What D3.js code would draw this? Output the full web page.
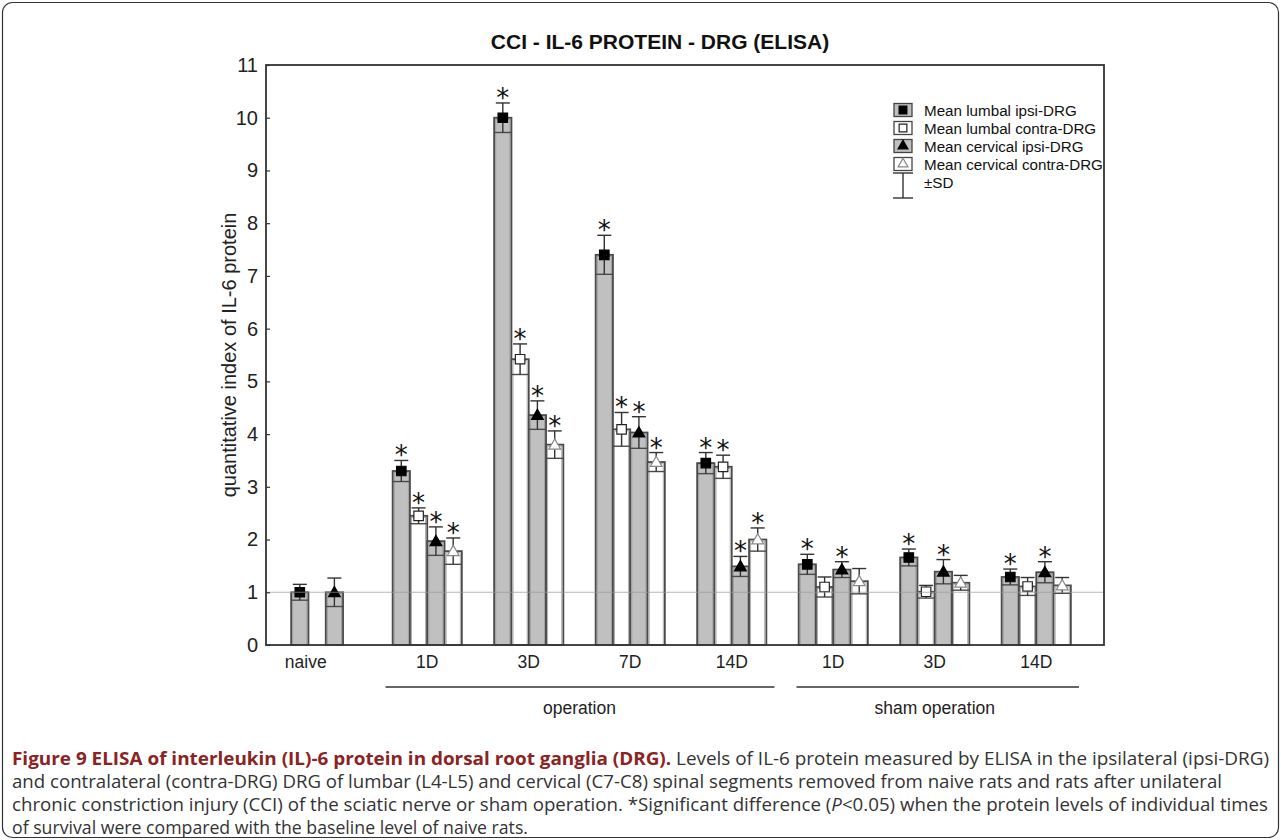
<!DOCTYPE html>
<html>
<head>
<meta charset="utf-8">
<script src="https://cdn.jsdelivr.net/npm/d3@7"></script>
<style>
  body { margin: 0; background: #fff; }
  svg { display: block; }
</style>
</head>
<body>
<div id="chart"></div>
<script>
// groups along the x axis
const groups = ["naive", "op1D", "op3D", "op7D", "op14D", "sham1D", "sham3D", "sham14D"];
const groupLabels = ["naive", "1D", "3D", "7D", "14D", "1D", "3D", "14D"];

// means and SD (null = not measured)
const lumbalIpsi = [1.0, 3.3, 10.0, 7.4, 3.45, 1.53, 1.66, 1.29];
const lumbalIpsiSD = [0.15, 0.2, 0.28, 0.37, 0.2, 0.19, 0.16, 0.15];
const lumbalContra = [null, 2.45, 5.42, 4.09, 3.38, 1.1, 1.01, 1.11];
const lumbalContraSD = [null, 0.15, 0.29, 0.32, 0.22, 0.19, 0.12, 0.17];
const cervIpsi = [1.0, 1.97, 4.36, 4.03, 1.49, 1.43, 1.39, 1.38];
const cervIpsiSD = [0.27, 0.27, 0.27, 0.3, 0.19, 0.15, 0.23, 0.2];
const cervContra = [null, 1.78, 3.8, 3.47, 2.0, 1.21, 1.18, 1.13];
const cervContraSD = [null, 0.25, 0.26, 0.18, 0.22, 0.24, 0.14, 0.15];

// significant difference from naive (*)
const lumbalIpsiSig = [0, 1, 1, 1, 1, 1, 1, 1];
const lumbalContraSig = [0, 1, 1, 1, 1, 0, 0, 0];
const cervIpsiSig = [0, 1, 1, 1, 1, 1, 1, 1];
const cervContraSig = [0, 1, 1, 1, 1, 0, 0, 0];

const yTicks = [0, 1, 2, 3, 4, 5, 6, 7, 8, 9, 10, 11];
const baseline = 1;

const series = [
    { name: "Mean lumbal ipsi-DRG", mean: lumbalIpsi, sd: lumbalIpsiSD, sig: lumbalIpsiSig, fill: "#c0c0c0", marker: "square", mfill: "#000", mstroke: "#000" },
    { name: "Mean lumbal contra-DRG", mean: lumbalContra, sd: lumbalContraSD, sig: lumbalContraSig, fill: "#fff", marker: "square", mfill: "#fff", mstroke: "#222" },
    { name: "Mean cervical ipsi-DRG", mean: cervIpsi, sd: cervIpsiSD, sig: cervIpsiSig, fill: "#c0c0c0", marker: "triangle", mfill: "#000", mstroke: "#000" },
    { name: "Mean cervical contra-DRG", mean: cervContra, sd: cervContraSD, sig: cervContraSig, fill: "#fff", marker: "triangle", mfill: "#fff", mstroke: "#888" }
];

const width = 1281, height = 840;
const frame = { left: 266, right: 1104, top: 65, bottom: 645 };

const svg = d3.select("#chart").append("svg")
    .attr("width", width)
    .attr("height", height);

// outer border of the figure
svg.append("rect")
    .attr("x", 2.5).attr("y", 2.5)
    .attr("width", width - 5).attr("height", height - 5)
    .attr("rx", 10)
    .attr("fill", "none")
    .attr("stroke", "#333")
    .attr("stroke-width", 1.2);

const x = d3.scaleBand()
    .domain(groups)
    .range([275, 1087]);

const slot = d3.scaleBand()
    .domain([0, 1, 2, 3])
    .range([-34.6, 34.6]);

const y = d3.scaleLinear()
    .domain([0, 11])
    .range([frame.bottom, frame.top]);

const font = "'Liberation Sans', Arial, sans-serif";

// title
svg.append("text")
    .attr("x", 660).attr("y", 49)
    .attr("text-anchor", "middle")
    .attr("font-family", font)
    .attr("font-weight", "bold")
    .attr("font-size", 21)
    .attr("fill", "#111")
    .text("CCI - IL-6 PROTEIN - DRG (ELISA)");

const plot = svg.append("g");

// bars
const bars = [];
series.forEach((s, si) => {
    groups.forEach((g, gi) => {
        if (s.mean[gi] == null) return;
        bars.push({ s, si, g, gi, v: s.mean[gi], sd: s.sd[gi], sig: s.sig[gi] });
    });
});

const bw = slot.bandwidth();
const cx = d => x(d.g) + x.bandwidth() / 2 + slot(d.si) + bw / 2;

plot.selectAll(".bar").data(bars).enter().append("rect")
    .attr("class", "bar")
    .attr("x", d => cx(d) - bw / 2)
    .attr("y", d => y(d.v))
    .attr("width", bw)
    .attr("height", d => y(0) - y(d.v))
    .attr("fill", d => d.s.fill)
    .attr("stroke", "#4a4a4a")
    .attr("stroke-width", 1.8);

// lighter inner outline gives the doubled edge of the original
plot.selectAll(".inner").data(bars).enter().append("rect")
    .attr("x", d => cx(d) - bw / 2 + 1.6)
    .attr("y", d => y(d.v) + 1.6)
    .attr("width", bw - 3.2)
    .attr("height", d => Math.max(0, y(0) - y(d.v) - 1.6))
    .attr("fill", "none")
    .attr("stroke", "#9a9a9a")
    .attr("stroke-width", 0.8);

// lower SD line spans the bar
plot.selectAll(".low").data(bars).enter().append("line")
    .attr("x1", d => cx(d) - bw / 2).attr("x2", d => cx(d) + bw / 2)
    .attr("y1", d => y(d.v - d.sd)).attr("y2", d => y(d.v - d.sd))
    .attr("stroke", "#4a4a4a").attr("stroke-width", 1.4);

// error bars
const cap = 7;
const err = plot.selectAll(".err").data(bars).enter().append("g")
    .attr("stroke", "#333").attr("stroke-width", 1.4);
err.append("line")
    .attr("x1", cx).attr("x2", cx)
    .attr("y1", d => y(d.v + d.sd)).attr("y2", d => y(d.v - d.sd));
err.append("line")
    .attr("x1", d => cx(d) - cap).attr("x2", d => cx(d) + cap)
    .attr("y1", d => y(d.v + d.sd)).attr("y2", d => y(d.v + d.sd));

// markers
const sq = d3.symbol().type(d3.symbolSquare).size(90);
const tri = d3.symbol().type(d3.symbolTriangle).size(60);
plot.selectAll(".marker").data(bars).enter().append("path")
    .attr("transform", d => `translate(${cx(d)},${y(d.v) + (d.s.marker === "triangle" ? 1 : 0)})`)
    .attr("d", d => d.s.marker === "square" ? sq() : tri())
    .attr("fill", d => d.s.mfill)
    .attr("stroke", d => d.s.mstroke)
    .attr("stroke-width", 1.2);

// significance stars
plot.selectAll(".star").data(bars.filter(d => d.sig)).enter().append("text")
    .attr("x", cx)
    .attr("y", d => y(d.v + d.sd) + 4)
    .attr("text-anchor", "middle")
    .attr("font-family", "'DejaVu Sans', sans-serif")
    .attr("font-size", 26)
    .attr("fill", "#111")
    .text("*");

// baseline of naive level
plot.append("line")
    .attr("x1", frame.left).attr("x2", frame.right)
    .attr("y1", y(baseline)).attr("y2", y(baseline))
    .attr("stroke", "#999").attr("stroke-opacity", 0.7).attr("stroke-width", 1.2);

// frame
svg.append("rect")
    .attr("x", frame.left).attr("y", frame.top)
    .attr("width", frame.right - frame.left)
    .attr("height", frame.bottom - frame.top)
    .attr("fill", "none")
    .attr("stroke", "#333")
    .attr("stroke-width", 1.8);

// y axis
const yAxis = svg.append("g")
    .attr("transform", `translate(${frame.left},0)`)
    .call(d3.axisLeft(y).tickValues(yTicks).tickSize(-4).tickPadding(8).tickFormat(d3.format("d")));
yAxis.select(".domain").remove();
yAxis.selectAll("line").attr("stroke", "#333").attr("stroke-width", 1.2);
yAxis.selectAll("text").attr("font-family", font).attr("font-size", 20).attr("fill", "#222");

// x axis labels
const xAxis = svg.append("g")
    .attr("transform", `translate(0,${frame.bottom})`)
    .call(d3.axisBottom(x).tickSize(0).tickPadding(11).tickFormat((d, i) => groupLabels[i]));
xAxis.select(".domain").remove();
xAxis.selectAll("text").attr("font-family", font).attr("font-size", 17.5).attr("fill", "#222")
    .attr("dx", d => d === "naive" ? -20 : 0);

// y axis title
svg.append("text")
    .attr("transform", `translate(236,${(frame.top + frame.bottom) / 2}) rotate(-90)`)
    .attr("text-anchor", "middle")
    .attr("font-family", font)
    .attr("font-size", 20)
    .attr("fill", "#222")
    .text("quantitative index of IL-6 protein");

// group brackets
const brackets = [
    { label: "operation", from: "op1D", to: "op14D", pad: [9, 8] },
    { label: "sham operation", from: "sham1D", to: "sham14D", pad: [14, 8] }
];
brackets.forEach(b => {
    const x1 = x(b.from) + b.pad[0], x2 = x(b.to) + x.bandwidth() - b.pad[1];
    svg.append("line")
        .attr("x1", x1).attr("x2", x2)
        .attr("y1", 687).attr("y2", 687)
        .attr("stroke", "#333").attr("stroke-width", 1.5);
    svg.append("text")
        .attr("x", (x(b.from) + x(b.to) + x.bandwidth()) / 2).attr("y", 714)
        .attr("text-anchor", "middle")
        .attr("font-family", font)
        .attr("font-size", 17.5)
        .attr("fill", "#222")
        .text(b.label);
});

// legend
const legend = svg.append("g").attr("transform", "translate(903,110)");
const rowH = 18;
series.forEach((s, i) => {
    const r = legend.append("g").attr("transform", `translate(0,${i * rowH})`);
    r.append("rect")
        .attr("x", -9).attr("y", -6.5).attr("width", 18).attr("height", 13)
        .attr("fill", s.fill).attr("stroke", "#444").attr("stroke-width", 1.3);
    r.append("path")
        .attr("d", s.marker === "square" ? d3.symbol().type(d3.symbolSquare).size(60)() : d3.symbol().type(d3.symbolTriangle).size(42)())
        .attr("fill", s.mfill).attr("stroke", s.mstroke).attr("stroke-width", 1.2);
    r.append("text")
        .attr("x", 21).attr("y", 5.5)
        .attr("font-family", font).attr("font-size", 15.2).attr("fill", "#111")
        .text(s.name);
});
const sdRow = legend.append("g").attr("transform", `translate(0,${4 * rowH})`);
sdRow.append("line").attr("x1", 0).attr("x2", 0).attr("y1", -9).attr("y2", 16).attr("stroke", "#333").attr("stroke-width", 1.4);
sdRow.append("line").attr("x1", -10).attr("x2", 10).attr("y1", -9).attr("y2", -9).attr("stroke", "#333").attr("stroke-width", 1.4);
sdRow.append("line").attr("x1", -10).attr("x2", 10).attr("y1", 16).attr("y2", 16).attr("stroke", "#333").attr("stroke-width", 1.4);
sdRow.append("text")
    .attr("x", 21).attr("y", 5.5)
    .attr("font-family", font).attr("font-size", 15.2).attr("fill", "#111")
    .text("±SD");

// caption
const capFont = "'Open Sans', 'Noto Sans', sans-serif";
const capSize = 18.6;
const cap1 = svg.append("text")
    .attr("x", 12).attr("y", 765)
    .attr("font-family", capFont).attr("font-size", capSize).attr("fill", "#333")
    .attr("textLength", 1257).attr("lengthAdjust", "spacingAndGlyphs");
cap1.append("tspan").attr("font-weight", "bold").attr("fill", "#8b2323")
    .text("Figure 9 ELISA of interleukin (IL)-6 protein in dorsal root ganglia (DRG).");
cap1.append("tspan").text(" Levels of IL-6 protein measured by ELISA in the ipsilateral (ipsi-DRG)");

svg.append("text")
    .attr("x", 12).attr("y", 788)
    .attr("font-family", capFont).attr("font-size", capSize).attr("fill", "#333")
    .attr("textLength", 1210).attr("lengthAdjust", "spacingAndGlyphs")
    .text("and contralateral (contra-DRG) DRG of lumbar (L4-L5) and cervical (C7-C8) spinal segments removed from naive rats and rats after unilateral");
const cap3 = svg.append("text")
    .attr("x", 12).attr("y", 811)
    .attr("font-family", capFont).attr("font-size", capSize).attr("fill", "#333")
    .attr("textLength", 1256).attr("lengthAdjust", "spacingAndGlyphs");
cap3.append("tspan").text("chronic constriction injury (CCI) of the sciatic nerve or sham operation. *Significant difference (");
cap3.append("tspan").attr("font-style", "italic").text("P");
cap3.append("tspan").text("<0.05) when the protein levels of individual times");
svg.append("text")
    .attr("x", 12).attr("y", 834)
    .attr("font-family", capFont).attr("font-size", capSize).attr("fill", "#333")
    .attr("textLength", 516).attr("lengthAdjust", "spacingAndGlyphs")
    .text("of survival were compared with the baseline level of naive rats.");
</script>
</body>
</html>
